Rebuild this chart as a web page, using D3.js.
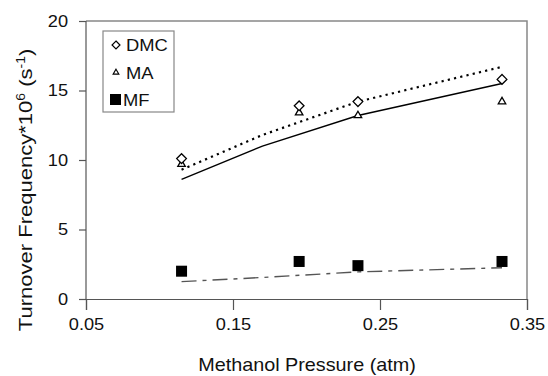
<!DOCTYPE html>
<html>
<head>
<meta charset="utf-8">
<script src="https://cdn.jsdelivr.net/npm/d3@7"></script>
<style>
  body { margin: 0; background: #fff; }
  svg text { font-family: "Liberation Sans", Arial, sans-serif; fill: #111; }
</style>
</head>
<body>
<div id="chart"></div>
<script>
'use strict';

// measured points
var pressure = [0.115, 0.195, 0.235, 0.333];
var dmcValues = [10.1, 13.9, 14.2, 15.8];
var maValues  = [9.7, 13.4, 13.2, 14.2];
var mfValues  = [2.0, 2.7, 2.4, 2.7];

// model curves
var modelPressure = [0.115, 0.17, 0.235, 0.333];
var dmcModel = [9.3, 11.8, 14.2, 16.7];
var maModel  = [8.6, 11.0, 13.2, 15.5];
var mfModel  = [1.25, 1.55, 1.95, 2.25];

var xTicks = [0.05, 0.15, 0.25, 0.35];
var yTicks = [0, 5, 10, 15, 20];
var legendNames = ['DMC', 'MA', 'MF'];

var width = 548, height = 376;
var area = { left: 86, top: 21, right: 527, bottom: 299 };

var svg = d3.select('#chart')
  .append('svg')
    .attr('width', width)
    .attr('height', height);

var x = d3.scaleLinear().domain([0.05, 0.35]).range([area.left, area.right]);
var y = d3.scaleLinear().domain([0, 20]).range([area.bottom, area.top]);

// widen glyphs a little, the original font runs wider than Liberation
function stretch(sel, k) {
  sel.each(function() {
    var len = this.getComputedTextLength();
    d3.select(this).attr('textLength', len * k).attr('lengthAdjust', 'spacingAndGlyphs');
  });
}

// plot frame (top + right)
svg.append('path')
  .attr('d', 'M' + area.left + ',' + area.top + 'H' + area.right + 'V' + area.bottom)
  .attr('fill', 'none')
  .attr('stroke', '#888')
  .attr('stroke-width', 1.5);

var yAxis = d3.axisLeft(y).tickValues(yTicks).tickSize(7).tickPadding(11)
  .tickFormat(d3.format('d'));
var gy = svg.append('g')
  .attr('transform', 'translate(' + area.left + ',0)')
  .call(yAxis);

var xAxis = d3.axisBottom(x).tickValues(xTicks).tickSize(11).tickPadding(8)
  .tickFormat(d3.format('.2f'));
var gx = svg.append('g')
  .attr('transform', 'translate(0,' + area.bottom + ')')
  .call(xAxis);

[gx, gy].forEach(function(g) {
  g.select('.domain').attr('stroke', '#555').attr('stroke-width', 1.2);
  g.selectAll('.tick line').attr('stroke', '#555').attr('stroke-width', 1.2);
  g.selectAll('.tick text')
    .style('font-size', '17px')
    .attr('fill', '#111')
    .call(stretch, 1.07);
});
gy.select('.domain').attr('d', 'M0,' + area.top + 'V' + area.bottom);

// axis titles
svg.append('text')
  .attr('transform', 'translate(307,371) scale(1.1,1)')
  .attr('text-anchor', 'middle')
  .style('font-size', '18px')
  .text('Methanol Pressure (atm)');

var yl = svg.append('text')
  .attr('transform', 'translate(32,190) rotate(-90) scale(1.16,1)')
  .attr('text-anchor', 'middle')
  .style('font-size', '19px');
yl.append('tspan').text('Turnover Frequency*10');
yl.append('tspan').attr('dy', -7).style('font-size', '12px').text('6');
yl.append('tspan').attr('dy', 7).text(' (s');
yl.append('tspan').attr('dy', -7).style('font-size', '12px').text('-1');
yl.append('tspan').attr('dy', 7).text(')');

// model lines
var line = d3.line()
  .x(function(d) { return x(d[0]); })
  .y(function(d) { return y(d[1]); });

function zip(xs, ys) { return xs.map(function(v, i) { return [v, ys[i]]; }); }

svg.append('path')
  .attr('d', line(zip(modelPressure, dmcModel)))
  .attr('fill', 'none').attr('stroke', '#000')
  .attr('stroke-width', 2.2).attr('stroke-dasharray', '2.2,4.2');

svg.append('path')
  .attr('d', line(zip(modelPressure, maModel)))
  .attr('fill', 'none').attr('stroke', '#000')
  .attr('stroke-width', 1.4);

svg.append('path')
  .attr('d', line(zip(modelPressure, mfModel)))
  .attr('fill', 'none').attr('stroke', '#555')
  .attr('stroke-width', 1.4).attr('stroke-dasharray', '15,6,4,6');

// markers
var diamond = d3.symbol().type(d3.symbolDiamond2).size(60);
var triangle = d3.symbol().type(d3.symbolTriangle2).size(40);

svg.append('g').selectAll('path')
  .data(zip(pressure, maValues))
  .enter().append('path')
    .attr('d', triangle)
    .attr('transform', function(d) { return 'translate(' + x(d[0]) + ',' + y(d[1]) + ')'; })
    .attr('fill', '#fff').attr('stroke', '#000').attr('stroke-width', 1.3);

svg.append('g').selectAll('path')
  .data(zip(pressure, dmcValues))
  .enter().append('path')
    .attr('d', diamond)
    .attr('transform', function(d) { return 'translate(' + x(d[0]) + ',' + y(d[1]) + ')'; })
    .attr('fill', '#fff').attr('stroke', '#000').attr('stroke-width', 1.3);

svg.append('g').selectAll('rect')
  .data(zip(pressure, mfValues))
  .enter().append('rect')
    .attr('x', function(d) { return x(d[0]) - 5.5; })
    .attr('y', function(d) { return y(d[1]) - 5.5; })
    .attr('width', 11).attr('height', 11)
    .attr('fill', '#000');

// legend
var legend = svg.append('g').attr('transform', 'translate(103,31)');
legend.append('rect')
  .attr('width', 71).attr('height', 81)
  .attr('fill', '#fff').attr('stroke', '#888').attr('stroke-width', 1.2);

var entry = legend.selectAll('.entry')
  .data(legendNames)
  .enter().append('g')
    .attr('class', 'entry')
    .attr('transform', function(d, i) { return 'translate(13,' + (14 + i * 27.5) + ')'; });

entry.each(function(d, i) {
  var g = d3.select(this);
  if (i === 0) {
    g.append('path').attr('d', d3.symbol().type(d3.symbolDiamond2).size(40))
      .attr('fill', '#fff').attr('stroke', '#000').attr('stroke-width', 1.2);
  } else if (i === 1) {
    g.append('path').attr('d', d3.symbol().type(d3.symbolTriangle2).size(24))
      .attr('fill', '#fff').attr('stroke', '#000').attr('stroke-width', 1.1);
  } else {
    g.append('rect').attr('x', -6).attr('y', -6).attr('width', 11).attr('height', 11)
      .attr('fill', '#000');
  }
});

entry.append('text')
  .attr('x', function(d, i) { return i === 2 ? 7 : 10; })
  .attr('y', 6)
  .style('font-size', '17px')
  .text(function(d) { return d; })
  .call(stretch, 1.08);
</script>
</body>
</html>
